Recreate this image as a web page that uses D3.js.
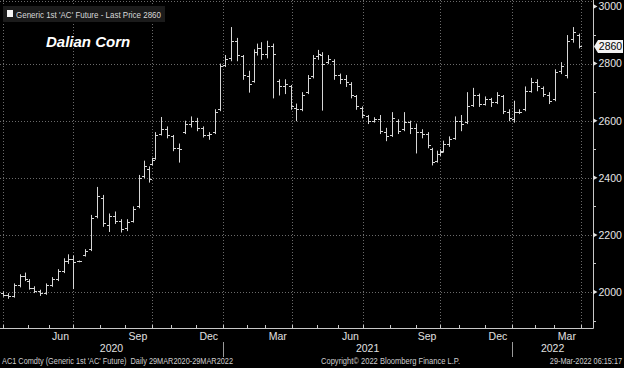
<!DOCTYPE html>
<html><head><meta charset="utf-8">
<script src="https://cdn.jsdelivr.net/npm/d3@7"></script>
<style>html,body{margin:0;padding:0;background:#000;}svg{display:block;}</style>
</head><body>
<svg id="c" width="624" height="368"></svg>
<script>
// ---- data (weekly OHLC) ----
const weeks = ["2020-03-30","2020-04-06","2020-04-13","2020-04-20","2020-04-27","2020-05-04","2020-05-11","2020-05-18","2020-05-25","2020-06-01","2020-06-08","2020-06-15","2020-06-22","2020-06-29","2020-07-06","2020-07-13","2020-07-20","2020-07-27","2020-08-03","2020-08-10","2020-08-17","2020-08-24","2020-08-31","2020-09-07","2020-09-14","2020-09-21","2020-09-28","2020-10-05","2020-10-12","2020-10-19","2020-10-26","2020-11-02","2020-11-09","2020-11-16","2020-11-23","2020-11-30","2020-12-07","2020-12-14","2020-12-21","2020-12-28",
"2021-01-04","2021-01-11","2021-01-18","2021-01-25","2021-02-01","2021-02-08","2021-02-15","2021-02-22","2021-03-01","2021-03-08","2021-03-15","2021-03-22","2021-03-29","2021-04-05","2021-04-12","2021-04-19","2021-04-26","2021-05-03","2021-05-10","2021-05-17","2021-05-24","2021-05-31","2021-06-07","2021-06-14","2021-06-21","2021-06-28","2021-07-05","2021-07-12","2021-07-19","2021-07-26","2021-08-02","2021-08-09","2021-08-16","2021-08-23","2021-08-30","2021-09-06","2021-09-13","2021-09-20","2021-09-27","2021-10-04","2021-10-11","2021-10-18","2021-10-25","2021-11-01","2021-11-08","2021-11-15","2021-11-22","2021-11-29","2021-12-06","2021-12-13","2021-12-20","2021-12-27",
"2022-01-03","2022-01-10","2022-01-17","2022-01-24","2022-02-07","2022-02-14","2022-02-21","2022-02-28","2022-03-07","2022-03-14","2022-03-21","2022-03-28"];
const open  = [1998,1990,1986,2025,2055,2040,2015,2002,1995,2025,2045,2072,2110,2115,2108,2130,2150,2265,2330,2235,2265,2250,2225,2250,2300,2405,2430,2450,2470,2555,2570,2545,2505,2560,2590,2600,2575,2550,2560,2640,
2795,2820,2880,2825,2755,2740,2840,2855,2835,2860,2740,2720,2720,2645,2640,2700,2755,2825,2830,2805,2810,2760,2745,2730,2685,2645,2615,2600,2605,2560,2550,2600,2570,2595,2575,2560,2555,2500,2460,2485,2495,2520,2540,2600,2595,2655,2690,2660,2675,2665,2685,2630,
2605,2630,2640,2705,2735,2715,2690,2675,2775,2760,2885,2900];
const high  = [2002,1996,2030,2062,2068,2045,2020,2008,2030,2052,2080,2118,2132,2128,2110,2150,2270,2368,2340,2275,2282,2255,2255,2300,2410,2460,2440,2470,2560,2613,2580,2550,2520,2600,2615,2610,2580,2560,2640,2800,
2830,2928,2890,2830,2775,2850,2870,2875,2880,2870,2745,2745,2725,2660,2700,2760,2830,2848,2840,2830,2815,2765,2760,2735,2690,2650,2620,2612,2620,2575,2630,2605,2630,2600,2590,2570,2560,2505,2495,2500,2530,2545,2615,2620,2700,2715,2695,2685,2680,2700,2690,2640,
2670,2640,2720,2750,2745,2720,2700,2780,2805,2900,2928,2905];
const low   = [1985,1978,1982,2018,2040,2010,1998,1988,1992,2020,2040,2068,2100,2012,2106,2126,2145,2260,2230,2212,2240,2210,2215,2245,2295,2400,2385,2445,2465,2550,2540,2495,2455,2555,2578,2565,2543,2535,2555,2635,
2790,2810,2810,2745,2700,2735,2830,2815,2820,2680,2690,2695,2640,2600,2635,2695,2750,2815,2637,2800,2745,2730,2720,2680,2640,2610,2590,2595,2555,2530,2545,2555,2565,2555,2487,2540,2505,2445,2455,2478,2490,2510,2535,2565,2590,2650,2650,2655,2650,2660,2625,2600,
2595,2625,2635,2700,2705,2685,2660,2670,2765,2750,2875,2855];
const close = [1990,1985,2025,2055,2045,2015,2002,1995,2025,2045,2072,2110,2115,2105,2108,2145,2260,2335,2240,2265,2250,2220,2245,2290,2400,2440,2395,2462,2550,2570,2550,2505,2500,2590,2600,2575,2550,2555,2630,2790,
2815,2880,2830,2760,2730,2840,2855,2835,2860,2835,2720,2730,2650,2640,2690,2750,2820,2835,2800,2815,2760,2745,2735,2690,2650,2620,2600,2605,2565,2545,2610,2565,2595,2575,2560,2555,2515,2455,2485,2490,2520,2535,2600,2590,2650,2690,2660,2675,2665,2690,2635,2610,
2630,2632,2705,2735,2720,2695,2670,2770,2790,2880,2910,2860];

// exchange holidays (weekdays with no trading)
const holidays = ["2020-04-06","2020-05-01","2020-05-04","2020-05-05","2020-06-25","2020-06-26","2020-10-01","2020-10-02","2020-10-05","2020-10-06","2020-10-07","2020-10-08",
"2021-01-01","2021-02-11","2021-02-12","2021-02-15","2021-02-16","2021-02-17","2021-04-05","2021-05-03","2021-05-04","2021-05-05","2021-06-14","2021-09-20","2021-09-21","2021-10-01","2021-10-04","2021-10-05","2021-10-06","2021-10-07",
"2022-01-03","2022-01-31","2022-02-01","2022-02-02","2022-02-03","2022-02-04"];

const yTicks = [2000,2200,2400,2600,2800,3000];
const yMinor = [1900,2100,2300,2500,2700,2900];
const monthLabels = [["2020-06","Jun"],["2020-09","Sep"],["2020-12","Dec"],["2021-03","Mar"],["2021-06","Jun"],["2021-09","Sep"],["2021-12","Dec"],["2022-03","Mar"]];
const years = ["2020","2021","2022"];
const lastPrice = close[close.length-1];

// ---- trading calendar ----
const fmt = d3.utcFormat("%Y-%m-%d");
const parse = d3.utcParse("%Y-%m-%d");
const hol = new Set(holidays);
const tdays = d3.utcDays(parse("2020-03-30"), parse("2022-04-02"))
  .filter(d => d.getUTCDay() > 0 && d.getUTCDay() < 6 && !hol.has(fmt(d)));

const W = 624, H = 368, plotR = 593, plotB = 328;
const x = d3.scaleLinear().domain([0, 488]).range([0.5, 581.2]);
const y = d3.scaleLinear().domain([2000, 3000]).range([292, 6.5]);

const svg = d3.select("#c");
svg.append("rect").attr("width",W).attr("height",H).attr("fill","#000");

const grid = svg.append("g").attr("stroke","#6a6a6a").attr("stroke-width",1).attr("stroke-dasharray","1,2");
grid.selectAll("line.h").data(yTicks.filter(v=>v<3000)).join("line")
  .attr("x1",0).attr("x2",plotR).attr("y1",d=>Math.round(y(d))+0.5).attr("y2",d=>Math.round(y(d))+0.5);
grid.append("line").attr("x1",0).attr("x2",plotR).attr("y1",1.5).attr("y2",1.5);
const firstOfMonth = [];
tdays.forEach((d,i)=>{ if (i===0 || tdays[i-1].getUTCMonth()!==d.getUTCMonth()) firstOfMonth.push({d,i}); });
firstOfMonth.push({d:parse("2022-04-01"), i:488});
const qLines = firstOfMonth.filter(o=>o.d.getUTCMonth()%3===0);
grid.selectAll("line.v").data(qLines).join("line")
  .attr("x1",o=>Math.round(x(o.i))+0.5).attr("x2",o=>Math.round(x(o.i))+0.5).attr("y1",0).attr("y2",plotB);

// ---- OHLC bars ----
const bars = weeks.map((w,k)=>{
  const s = parse(w), e = d3.utcDay.offset(s,7);
  const ii = tdays.map((d,i)=>[d,i]).filter(([d])=>d>=s && d<e).map(([,i])=>i);
  return {xi: d3.mean(ii), o:open[k], h:high[k], l:low[k], c:close[k]};
});
const bg = svg.append("g").attr("stroke","#d6d6d6").attr("stroke-width",1);
bars.forEach(b=>{
  const px = Math.round(x(b.xi))+0.5;
  bg.append("line").attr("x1",px).attr("x2",px).attr("y1",y(b.h)).attr("y2",y(b.l)+0.5);
  bg.append("line").attr("x1",px-2.5).attr("x2",px).attr("y1",Math.round(y(b.o))+0.5).attr("y2",Math.round(y(b.o))+0.5);
  bg.append("line").attr("x1",px).attr("x2",px+2.5).attr("y1",Math.round(y(b.c))+0.5).attr("y2",Math.round(y(b.c))+0.5);
});

// ---- axes ----
const axCol = "#c8c8c8";
svg.append("line").attr("x1",plotR+0.5).attr("x2",plotR+0.5).attr("y1",0).attr("y2",plotB+0.5).attr("stroke",axCol);
svg.append("line").attr("x1",0).attr("x2",plotR+0.5).attr("y1",plotB+0.5).attr("y2",plotB+0.5).attr("stroke",axCol);
svg.selectAll("path.yt").data(yTicks).join("path")
  .attr("d",d=>{const yy=y(d); return `M${plotR},${yy-2.5}L${plotR+4.5},${yy}L${plotR},${yy+2.5}Z`;})
  .attr("fill","#e0e0e0");
svg.selectAll("line.ym").data(yMinor).join("line")
  .attr("x1",plotR).attr("x2",plotR+3).attr("y1",d=>Math.round(y(d))+0.5).attr("y2",d=>Math.round(y(d))+0.5).attr("stroke",axCol);
const font = "'Liberation Sans',Arial,sans-serif";
svg.selectAll("text.yl").data(yTicks).join("text")
  .attr("x",plotR+5.5).attr("y",d=>y(d)+3.8).text(d=>d)
  .attr("fill","#e6e6e6").attr("font-family",font).attr("font-size",10.5);
// last price tag
const ly = y(lastPrice);
svg.append("path").attr("d",`M${plotR+1},${ly}L${plotR+5},${ly-6.5}L623,${ly-6.5}L623,${ly+6.5}L${plotR+5},${ly+6.5}Z`).attr("fill","#f2f2f2");
svg.append("text").attr("x",610.5).attr("y",ly+3.8).attr("text-anchor","middle").text(lastPrice)
  .attr("fill","#000").attr("font-family",font).attr("font-size",10.5);

// x ticks at month starts
svg.selectAll("line.xt").data(firstOfMonth.filter(o=>o.i>0)).join("line")
  .attr("x1",o=>Math.round(x(o.i))+0.5).attr("x2",o=>Math.round(x(o.i))+0.5)
  .attr("y1",plotB-3).attr("y2",plotB).attr("stroke",axCol);
svg.selectAll("text.ml").data(monthLabels).join("text")
  .attr("x",([m])=>x(d3.mean(tdays.map((d,i)=>[d,i]).filter(([d])=>fmt(d).startsWith(m)).map(([,i])=>i))))
  .attr("y",340).attr("text-anchor","middle").text(([,l])=>l)
  .attr("fill","#e0e0e0").attr("font-family",font).attr("font-size",10.5);
const yearStart = yr => { const o = firstOfMonth.find(o=>o.d.getUTCFullYear()===+yr); return o ? o.i : 0; };
const yearBounds = years.map((yr,k)=>{
  const s = k===0 ? 0 : x(yearStart(yr));
  const e = k===years.length-1 ? plotR : x(yearStart(years[k+1]));
  return {yr, s, e};
});
svg.selectAll("text.yr").data(yearBounds).join("text")
  .attr("x",b=>(b.s+b.e)/2).attr("y",352).attr("text-anchor","middle").text(b=>b.yr)
  .attr("fill","#e0e0e0").attr("font-family",font).attr("font-size",10.5);
svg.selectAll("line.ys").data(yearBounds.slice(1)).join("line")
  .attr("x1",b=>Math.round(b.s)+0.5).attr("x2",b=>Math.round(b.s)+0.5).attr("y1",342).attr("y2",357)
  .attr("stroke","#9a9a9a");

// ---- legend & title ----
svg.append("rect").attr("x",3).attr("y",6).attr("width",162).attr("height",16).attr("fill","#1b1b1b");
svg.append("rect").attr("x",7).attr("y",10).attr("width",6).attr("height",7).attr("fill","#f4f4f4");
svg.append("text").attr("x",16).attr("y",17.5).text("Generic 1st 'AC' Future - Last Price " + lastPrice)
  .attr("textLength",145).attr("lengthAdjust","spacingAndGlyphs")
  .attr("fill","#d8d8d8").attr("font-family",font).attr("font-size",9);
svg.append("text").attr("x",46).attr("y",47).text("Dalian Corn")
  .attr("fill","#fff").attr("font-family",font).attr("font-weight","bold").attr("font-style","italic").attr("font-size",15);

// ---- footer ----
const foot = svg.append("g").attr("fill","#cfcfcf").attr("font-family",font).attr("font-size",8.5);
foot.append("text").attr("x",2).attr("y",364).text("AC1 Comdty (Generic 1st 'AC' Future)  Daily 29MAR2020-29MAR2022")
  .attr("xml:space","preserve").attr("textLength",231).attr("lengthAdjust","spacingAndGlyphs");
foot.append("text").attr("x",321).attr("y",364).text("Copyright© 2022 Bloomberg Finance L.P.")
  .attr("textLength",139).attr("lengthAdjust","spacingAndGlyphs");
foot.append("text").attr("transform","translate(622,364) scale(0.86,1)").attr("text-anchor","end")
  .text("29-Mar-2022 06:15:17");
</script>
</body></html>
